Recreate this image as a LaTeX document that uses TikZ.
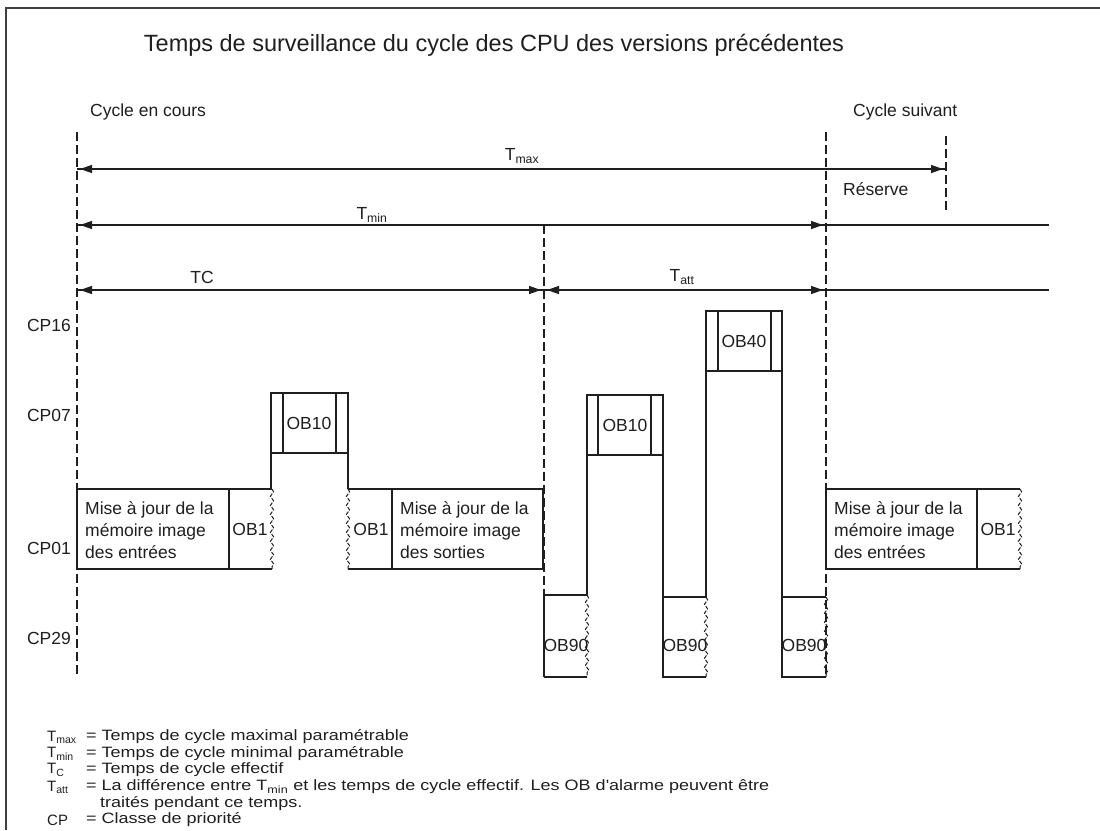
\documentclass[tikz,border=0pt]{standalone}
\usepackage{fontspec}
\setmainfont{Liberation Sans}
\newfontfamily\legfont[FakeStretch=1.2]{Liberation Sans}
\usetikzlibrary{arrows.meta,decorations.pathmorphing}
\begin{document}
\begin{tikzpicture}[x=1pt,y=-1pt,
  ln/.style={line width=1.3pt, draw=black!88},
  dashv/.style={line width=1.3pt, draw=black!88, dash pattern=on 9pt off 4pt},
  wavy/.style={line width=1pt, draw=black!88, dash pattern=on 4pt off 1.5pt, decorate, decoration={snake, amplitude=1.6pt, segment length=9pt}},
  dimarrow/.style={line width=1.3pt, draw=black!88, {Triangle[length=12pt,width=8pt]}-{Triangle[length=12pt,width=8pt]}, shorten <=3pt, shorten >=3pt},
  txt/.style={font=\fontsize{17.5}{22}\selectfont, inner sep=0pt, text=black!88},
  legtxt/.style={font=\legfont\fontsize{15}{17}\selectfont, inner sep=0pt, anchor=west, text=black!88},
  legkey/.style={font=\fontsize{15}{17}\selectfont, inner sep=0pt, anchor=west, text=black!88},
  boxtxt/.style={txt, align=left, anchor=west},
]
\useasboundingbox (0,0) rectangle (1100,830);
\fill[white] (0,0) rectangle (1100,830);
% frame
\draw[line width=2pt, black!75] (6,830) -- (6,8) -- (1100,8);

% title and headings
\node[font=\fontsize{23.5}{28}\selectfont, inner sep=0pt, text=black!88] (title) at (494,45) {Temps de surveillance du cycle des CPU des versions précédentes};
\node[txt, anchor=west] (cur) at (90,112) {Cycle en cours};
\node[txt, anchor=west] (next) at (853,112) {Cycle suivant};

% time marks
\coordinate (v0t) at (77,132);  \coordinate (v0b) at (77,676);
\coordinate (v1t) at (544,225); \coordinate (v1b) at (544,676);
\coordinate (v2t) at (826,132); \coordinate (v2b) at (826,676);
\coordinate (v3t) at (946,136); \coordinate (v3b) at (946,213);
\draw[dashv] (v0t) -- (v0b);
\draw[dashv] (v1t) -- (v1b);
\draw[dashv] (v2t) -- (v2b);
\draw[dashv] (v3t) -- (v3b);

% dimension arrows
\coordinate (amaxL) at (77,169);  \coordinate (amaxR) at (946,169);
\coordinate (aminL) at (77,225);  \coordinate (aminR) at (826,225); \coordinate (aminE) at (1049,225);
\coordinate (atcL) at (77,290);   \coordinate (atcR) at (544,290);
\coordinate (attR) at (826,290);  \coordinate (attE) at (1049,290);
\draw[ln] (amaxL) -- (amaxR);
\draw[dimarrow] (amaxL) -- (amaxR);
\draw[ln] (aminL) -- (aminE);
\draw[dimarrow] (aminL) -- (aminR);
\draw[ln] (atcL) -- (attE);
\draw[dimarrow] (atcL) -- (atcR);
\draw[dimarrow] (atcR) -- (attR);

\node[txt] (lmax) at (522,156) {T\textsubscript{max}};
\node[txt] (lmin) at (372,215) {T\textsubscript{min}};
\node[txt] (ltc) at (202,277) {TC};
\node[txt] (latt) at (682,277) {T\textsubscript{att}};
\node[txt, anchor=west] (res) at (843,189) {Réserve};

% priority classes
\node[txt, anchor=east] (cp16) at (71,325) {CP16};
\node[txt, anchor=east] (cp07) at (71,415) {CP07};
\node[txt, anchor=east] (cp01) at (71,548) {CP01};
\node[txt, anchor=east] (cp29) at (71,638) {CP29};

% ---- CP01 : inputs update + OB1
\draw[ln] (272,489) -- (77,489) -- (77,569) -- (272,569);
\draw[ln] (229,489) -- (229,569);
\draw[wavy] (272,489) -- (272,569);
\node[boxtxt] (in1) at (85,530) {Mise à jour de la\\mémoire image\\des entrées};
\node[txt] (ob1a) at (250,529) {OB1};

% ---- CP07 : OB10
\draw[ln] (271,489) -- (271,393) -- (348,393) -- (348,489);
\draw[ln] (271,453) -- (348,453);
\draw[ln] (283,393) -- (283,453);
\draw[ln] (336,393) -- (336,453);
\node[txt] (ob10a) at (309,423) {OB10};

% ---- CP01 : OB1 + outputs update
\draw[ln] (348,489) -- (543,489) -- (543,569) -- (348,569);
\draw[wavy] (348,489) -- (348,569);
\draw[ln] (392,489) -- (392,569);
\node[txt] (ob1b) at (371,529) {OB1};
\node[boxtxt] (out) at (400,530) {Mise à jour de la\\mémoire image\\des sorties};

% ---- waiting time : OB90 / OB10 / OB90 / OB40 / OB90
\draw[ln] (544,677) -- (544,595) -- (587,595) -- (587,395) -- (663,395) -- (663,597) -- (706,597) -- (706,311) -- (782,311) -- (782,597) -- (826,597);
\draw[ln] (544,677) -- (587,677);
\draw[wavy] (587,595) -- (587,677);
\draw[ln] (587,455) -- (663,455);
\draw[ln] (598,395) -- (598,455);
\draw[ln] (651,395) -- (651,455);
\node[txt] (ob10b) at (625,425) {OB10};
\draw[ln] (663,597) -- (663,677) -- (706,677);
\draw[wavy] (706,597) -- (706,677);
\draw[ln] (706,371) -- (782,371);
\draw[ln] (718,311) -- (718,371);
\draw[ln] (771,311) -- (771,371);
\node[txt] (ob40) at (744,341) {OB40};
\draw[ln] (782,597) -- (782,677) -- (826,677);
\draw[wavy] (826,597) -- (826,677);
\node[txt] (ob90a) at (566,645) {OB90};
\node[txt] (ob90b) at (685,645) {OB90};
\node[txt] (ob90c) at (804,645) {OB90};

% ---- next cycle
\draw[ln] (1020,489) -- (826,489) -- (826,569) -- (1020,569);
\draw[ln] (977,489) -- (977,569);
\draw[wavy] (1020,489) -- (1020,569);
\node[boxtxt] (in2) at (834,530) {Mise à jour de la\\mémoire image\\des entrées};
\node[txt] (ob1c) at (998,529) {OB1};

% ---- legend
\node[legkey] (k1) at (47,737) {T\textsubscript{max}};
\node[legtxt] (d1) at (86,737) {= Temps de cycle maximal paramétrable};
\node[legkey] (k2) at (47,754) {T\textsubscript{min}};
\node[legtxt] (d2) at (86,754) {= Temps de cycle minimal paramétrable};
\node[legkey] (k3) at (47,770) {T\textsubscript{C}};
\node[legtxt] (d3) at (86,770) {= Temps de cycle effectif};
\node[legkey] (k4) at (47,787) {T\textsubscript{att}};
\node[legtxt] (d4) at (86,787) {= La différence entre T\textsubscript{min} et les temps de cycle effectif. Les OB d'alarme peuvent être};
\node[legtxt] (d4b) at (100,804) {traités pendant ce temps.};
\node[legkey] (k5) at (47,820) {CP};
\node[legtxt] (d5) at (86,820) {= Classe de priorité};
\end{tikzpicture}
\end{document}
